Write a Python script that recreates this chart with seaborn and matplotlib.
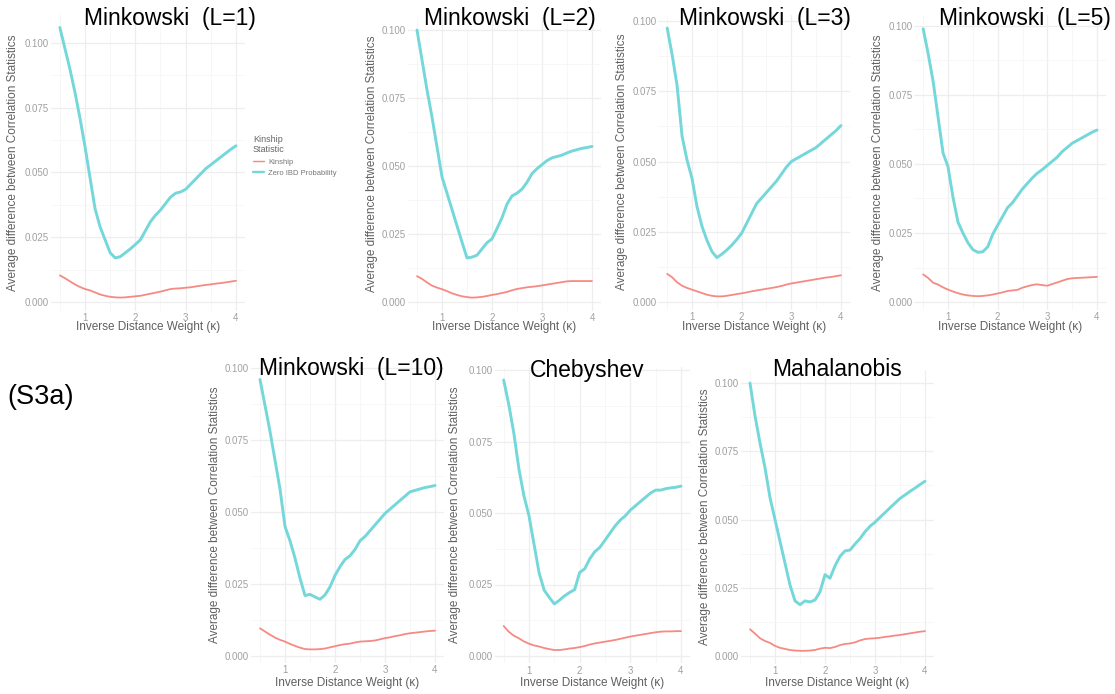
import matplotlib
matplotlib.use("Agg")
import matplotlib.pyplot as plt
from matplotlib.lines import Line2D
from matplotlib.ticker import FixedLocator, AutoMinorLocator, FormatStrFormatter
import pandas as pd
import seaborn as sns

# Inverse distance weight values (kappa)
kappa = [0.5, 0.6, 0.7, 0.8, 0.9, 1.0, 1.1, 1.2, 1.3, 1.4, 1.5, 1.6,
         1.7, 1.8, 1.9, 2.0, 2.1, 2.2, 2.3, 2.4, 2.5, 2.6, 2.7, 2.8,
         2.9, 3.0, 3.1, 3.2, 3.3, 3.4, 3.5, 3.6, 3.7, 3.8, 3.9, 4.0]

statistics = ["Kinship", "Zero IBD Probability"]

# Minkowski L=1
kin_l1 = [0.0103, 0.0092, 0.0080, 0.0068, 0.0058, 0.0050, 0.0045, 0.0037, 0.0029,
          0.0024, 0.0020, 0.0018, 0.0017, 0.0018, 0.0020, 0.0022, 0.0024, 0.0028,
          0.0032, 0.0036, 0.0040, 0.0045, 0.0050, 0.0052, 0.0053, 0.0055, 0.0057,
          0.0060, 0.0063, 0.0066, 0.0068, 0.0071, 0.0073, 0.0076, 0.0079, 0.0082]
ibd_l1 = [0.106, 0.098, 0.090, 0.081, 0.071, 0.060, 0.048, 0.036, 0.029,
          0.024, 0.019, 0.017, 0.0175, 0.019, 0.0205, 0.0222, 0.024, 0.0275,
          0.031, 0.0335, 0.0355, 0.038, 0.0405, 0.042, 0.0425, 0.0435, 0.0455,
          0.0475, 0.0495, 0.0515, 0.053, 0.0545, 0.056, 0.0575, 0.059, 0.0603]

# Minkowski L=2
kin_l2 = [0.0095, 0.0085, 0.0072, 0.0060, 0.0053, 0.0047, 0.0040, 0.0032, 0.0026,
          0.0021, 0.0018, 0.0016, 0.0017, 0.0019, 0.0022, 0.0026, 0.0029, 0.0033,
          0.0037, 0.0043, 0.0048, 0.0051, 0.0054, 0.0056, 0.0058, 0.0061, 0.0064,
          0.0067, 0.0070, 0.0073, 0.0076, 0.0077, 0.0077, 0.0077, 0.0077, 0.0077]
ibd_l2 = [0.100, 0.089, 0.078, 0.068, 0.057, 0.046, 0.040, 0.034, 0.028,
          0.022, 0.0162, 0.0165, 0.0172, 0.0195, 0.0218, 0.0232, 0.027, 0.031,
          0.036, 0.039, 0.040, 0.0415, 0.044, 0.0472, 0.049, 0.0505, 0.052,
          0.053, 0.0535, 0.054, 0.0548, 0.0555, 0.056, 0.0565, 0.0568, 0.0572]

# Minkowski L=3
kin_l3 = [0.0100, 0.0088, 0.0070, 0.0058, 0.0050, 0.0044, 0.0038, 0.0032, 0.0026,
          0.0022, 0.0020, 0.0020, 0.0022, 0.0025, 0.0028, 0.0031, 0.0034, 0.0038,
          0.0041, 0.0044, 0.0047, 0.0050, 0.0053, 0.0057, 0.0062, 0.0066, 0.0069,
          0.0072, 0.0075, 0.0078, 0.0081, 0.0084, 0.0087, 0.0089, 0.0092, 0.0095]
ibd_l3 = [0.0975, 0.088, 0.077, 0.059, 0.0505, 0.044, 0.034, 0.027, 0.022,
          0.018, 0.0158, 0.017, 0.0185, 0.0202, 0.0222, 0.0245, 0.028, 0.0315,
          0.035, 0.037, 0.039, 0.041, 0.043, 0.0455, 0.048, 0.050, 0.051,
          0.052, 0.053, 0.054, 0.055, 0.0565, 0.058, 0.0595, 0.061, 0.0628]

# Minkowski L=5
kin_l5 = [0.0100, 0.0087, 0.0070, 0.0063, 0.0053, 0.0045, 0.0038, 0.0032, 0.0027,
          0.0024, 0.0022, 0.0021, 0.0022, 0.0024, 0.0027, 0.0031, 0.0035, 0.0040,
          0.0042, 0.0044, 0.0052, 0.0057, 0.0062, 0.0064, 0.0061, 0.0059, 0.0065,
          0.0071, 0.0077, 0.0083, 0.0086, 0.0087, 0.0088, 0.0089, 0.0090, 0.0091]
ibd_l5 = [0.099, 0.090, 0.080, 0.067, 0.054, 0.049, 0.038, 0.029, 0.025,
          0.0215, 0.019, 0.018, 0.0182, 0.020, 0.0245, 0.0278, 0.031, 0.0342,
          0.036, 0.0385, 0.041, 0.043, 0.045, 0.0467, 0.048, 0.0495, 0.051,
          0.0525, 0.0545, 0.056, 0.0575, 0.0585, 0.0595, 0.0605, 0.0615, 0.0623]

# Minkowski L=10
kin_l10 = [0.0096, 0.0085, 0.0074, 0.0064, 0.0056, 0.0050, 0.0042, 0.0035, 0.0029,
           0.0024, 0.0023, 0.0023, 0.0024, 0.0026, 0.0030, 0.0034, 0.0038, 0.0041,
           0.0043, 0.0047, 0.0050, 0.0051, 0.0052, 0.0054, 0.0058, 0.0062, 0.0065,
           0.0069, 0.0072, 0.0076, 0.0079, 0.0081, 0.0083, 0.0085, 0.0087, 0.0088]
ibd_l10 = [0.096, 0.087, 0.078, 0.068, 0.058, 0.045, 0.040, 0.034, 0.027,
           0.021, 0.0214, 0.0205, 0.0197, 0.0212, 0.024, 0.028, 0.031, 0.0335,
           0.0348, 0.037, 0.040, 0.0415, 0.0435, 0.0455, 0.0475, 0.0495, 0.051,
           0.0525, 0.054, 0.0555, 0.057, 0.0575, 0.058, 0.0585, 0.0588, 0.0592]

# Chebyshev
kin_cheb = [0.0105, 0.0085, 0.0071, 0.0062, 0.0051, 0.0043, 0.0037, 0.0033, 0.0028,
            0.0024, 0.0021, 0.0021, 0.0023, 0.0026, 0.0028, 0.0031, 0.0035, 0.0040,
            0.0044, 0.0047, 0.0050, 0.0053, 0.0056, 0.0060, 0.0064, 0.0068, 0.0071,
            0.0074, 0.0077, 0.0080, 0.0083, 0.0085, 0.0086, 0.0086, 0.0087, 0.0087]
ibd_cheb = [0.0965, 0.088, 0.078, 0.0655, 0.056, 0.049, 0.039, 0.029, 0.023,
            0.0205, 0.0182, 0.0195, 0.021, 0.0222, 0.0232, 0.0292, 0.0305, 0.034,
            0.0365, 0.038, 0.0405, 0.043, 0.0455, 0.0475, 0.049, 0.051, 0.0525,
            0.054, 0.0555, 0.057, 0.058, 0.058, 0.0585, 0.0588, 0.059, 0.0594]

# Mahalanobis
kin_mahal = [0.0098, 0.0082, 0.0065, 0.0055, 0.0048, 0.0037, 0.0030, 0.0026, 0.0022,
             0.0020, 0.0019, 0.0019, 0.0020, 0.0022, 0.0027, 0.0030, 0.0029, 0.0033,
             0.0040, 0.0044, 0.0046, 0.0050, 0.0057, 0.0062, 0.0064, 0.0065, 0.0067,
             0.0070, 0.0072, 0.0075, 0.0077, 0.0080, 0.0083, 0.0086, 0.0089, 0.0091]
ibd_mahal = [0.100, 0.088, 0.078, 0.069, 0.058, 0.050, 0.042, 0.034, 0.026,
             0.0202, 0.0188, 0.0202, 0.0198, 0.0205, 0.0235, 0.0298, 0.0285, 0.033,
             0.0365, 0.0385, 0.0388, 0.041, 0.043, 0.0455, 0.0475, 0.049, 0.0508,
             0.0525, 0.0543, 0.056, 0.0577, 0.059, 0.0603, 0.0615, 0.0628, 0.064]

titles = ["Minkowski  (L=1)", "Minkowski  (L=2)", "Minkowski  (L=3)", "Minkowski  (L=5)",
          "Minkowski  (L=10)", "Chebyshev", "Mahalanobis"]
series = [(kin_l1, ibd_l1), (kin_l2, ibd_l2), (kin_l3, ibd_l3), (kin_l5, ibd_l5),
          (kin_l10, ibd_l10), (kin_cheb, ibd_cheb), (kin_mahal, ibd_mahal)]

x_ticks = [1, 2, 3, 4]
y_ticks = [0.000, 0.025, 0.050, 0.075, 0.100]

# Pixel anchors of each panel: x of kappa=1, x of kappa=4, y of 0, y of 0.1,
# x of the y-axis title, title centre x, title baseline y, x-axis title y
layout = [
    (85, 236, 302, 43, 13, 170, 25, 327),
    (442, 592, 302, 30, 372, 510, 25, 327),
    (692, 841, 302, 21, 622, 765, 25, 327),
    (948, 1097, 302, 26, 878, 1025, 25, 327),
    (285, 435, 656, 368, 215, 351, 375, 683),
    (529, 681, 656, 370, 455, 587, 377, 683),
    (775, 925, 656, 383, 705, 837, 376, 683),
]

W, H = 1115, 694
palette = {"Kinship": "#F68A83", "Zero IBD Probability": "#74D7DA"}
widths = {"Kinship": 1.3, "Zero IBD Probability": 2.1}

sns.set_theme(style="white")
plt.rcParams["font.family"] = ["Liberation Sans", "DejaVu Sans"]

fig = plt.figure(figsize=(W / 100, H / 100), dpi=100)
fig.patch.set_facecolor("white")

for (kin, ibd), title, (px1, px4, py0, py100, ylab_x, tcx, tby, xlab_y) in zip(series, titles, layout):
    df = pd.DataFrame({
        "kappa": kappa * 2,
        "value": kin + ibd,
        "statistic": [statistics[0]] * len(kappa) + [statistics[1]] * len(kappa),
    })
    lo, hi = min(kin + ibd), max(kin + ibd)
    pad = 0.05 * (hi - lo)
    xlim = (0.5 - 0.175, 4.0 + 0.175)
    ylim = (lo - pad, hi + pad)

    ux = (px4 - px1) / 3.0
    uy = (py0 - py100) / 0.1
    left = px1 - (1 - xlim[0]) * ux
    right = px4 + (xlim[1] - 4) * ux
    bottom = py0 - ylim[0] * uy
    top = py0 - ylim[1] * uy
    ax = fig.add_axes([left / W, 1 - bottom / H, (right - left) / W, (bottom - top) / H])

    sns.lineplot(data=df, x="kappa", y="value", hue="statistic", size="statistic",
                 palette=palette, sizes=widths, estimator=None, sort=True,
                 legend=False, ax=ax, zorder=3)

    ax.set_xlim(*xlim)
    ax.set_ylim(*ylim)
    ax.xaxis.set_major_locator(FixedLocator(x_ticks))
    ax.yaxis.set_major_locator(FixedLocator(y_ticks))
    ax.xaxis.set_minor_locator(AutoMinorLocator(2))
    ax.yaxis.set_minor_locator(AutoMinorLocator(2))
    ax.yaxis.set_major_formatter(FormatStrFormatter("%.3f"))
    ax.grid(which="major", color="#EEEEEE", linewidth=0.9)
    ax.grid(which="minor", color="#F4F4F4", linewidth=0.5)
    ax.set_axisbelow(True)
    for s in ax.spines.values():
        s.set_visible(False)
    ax.tick_params(which="both", length=0, pad=1.5, labelsize=7, labelcolor="#a0a0a0")
    ax.set_facecolor("white")

    ax.set_xlabel("Inverse Distance Weight (\u03ba)", fontsize=8.5, color="#606060")
    ax.set_ylabel("Average difference between Correlation Statistics", fontsize=8.5, color="#606060")
    ax.yaxis.label.set_va("center")
    ax.xaxis.label.set_va("center")
    ax.yaxis.set_label_coords((ylab_x - left) / (right - left), 0.5)
    ax.xaxis.set_label_coords(0.5, (bottom - xlab_y) / (bottom - top))

    fig.text(tcx / W, 1 - tby / H, title, ha="center", va="baseline",
             fontsize=16.5, color="black")

    if title == titles[0]:
        handles = [Line2D([0], [0], color=palette[s], lw=widths[s] * 0.8) for s in statistics]
        leg = ax.legend(handles, statistics, title="Kinship\nStatistic",
                        loc="upper left", bbox_to_anchor=(253 / W, 1 - 135 / H),
                        bbox_transform=fig.transFigure, frameon=False,
                        fontsize=5.5, title_fontsize=6.5, handlelength=1.4,
                        handletextpad=0.6, labelspacing=0.5, alignment="left",
                        borderaxespad=0, borderpad=0)
        leg.get_title().set_color("#666666")
        for t in leg.get_texts():
            t.set_color("#777777")

fig.text(41 / W, 1 - 404 / H, "(S3a)", ha="center", va="baseline", fontsize=19.5, color="black")

fig.savefig("out.png", dpi=100, facecolor="white")
